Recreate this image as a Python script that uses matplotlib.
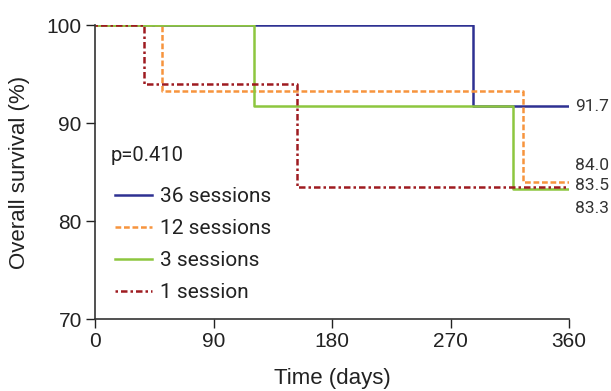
"""
Overall survival by number of sessions (Kaplan-Meier style step plot)
"""
import matplotlib
matplotlib.use("Agg")
import matplotlib.pyplot as plt

plt.rcParams['font.family'] = ['Liberation Sans', 'DejaVu Sans']

# step curves: time (days) and survival (%)
days_36 = [0, 287, 360]
surv_36 = [100, 91.7, 91.7]
days_12 = [0, 51, 325, 360]
surv_12 = [100, 93.3, 84.0, 84.0]
days_3 = [0, 121, 317, 360]
surv_3 = [100, 91.7, 83.3, 83.3]
days_1 = [0, 37, 153, 360]
surv_1 = [100, 94.0, 83.5, 83.5]

labels = ["36 sessions", "12 sessions", "3 sessions", "1 session"]
end_labels = ["91.7", "84.0", "83.5", "83.3"]
end_label_y = [91.7, 85.7, 83.6, 81.3]
x_ticks = [0, 90, 180, 270, 360]
y_ticks = [70, 80, 90, 100]

fig = plt.figure(figsize=(6.11, 3.91), dpi=100)
ax = fig.add_axes([0.1555, 0.184, 0.776, 0.752])

ax.step(days_36, surv_36, where='post', color='#2e3192', lw=1.8, label=labels[0])
ax.step(days_12, surv_12, where='post', color='#f7943d', lw=1.8,
        linestyle=(0, (2.3, 1.1)), label=labels[1])
ax.step(days_3, surv_3, where='post', color='#8dc63f', lw=1.8, label=labels[2])
ax.step(days_1, surv_1, where='post', color='#9e1b20', lw=1.8,
        linestyle=(0, (1, 1.2, 2.6, 1.2)), label=labels[3])

for txt, yv in zip(end_labels, end_label_y):
    ax.text(364.5, yv, txt, fontsize=12.5, color='#333333', va='center', ha='left',
            family=['Roboto', 'DejaVu Sans'], clip_on=False)

ax.text(11.5, 86.7, "p=0.410", fontsize=14.5, color='#222222', va='center',
        family=['Roboto', 'DejaVu Sans'])

leg = ax.legend(loc='upper left', bbox_to_anchor=(0.042, 0.448), frameon=False,
                prop={'family': ['Roboto', 'DejaVu Sans'], 'size': 15},
                handlelength=1.8, labelspacing=0.62, handletextpad=0.35,
                borderpad=0, borderaxespad=0)
for t in leg.get_texts():
    t.set_color('#222222')

ax.set_xlim(0, 360)
ax.set_ylim(70, 100)
ax.set_xticks(x_ticks)
ax.set_yticks(y_ticks)
ax.tick_params(labelsize=15, colors='#222222', length=6.5, width=1, pad=3,
               direction='out')
ax.spines['top'].set_visible(False)
ax.spines['right'].set_visible(False)
for s in ['left', 'bottom']:
    ax.spines[s].set_color('#333333')
    ax.spines[s].set_linewidth(1.2)
ax.set_xlabel("Time (days)", fontsize=16, color='#222222', labelpad=12)
ax.set_ylabel("Overall survival (%)", fontsize=16, color='#222222', labelpad=12)

fig.savefig("out.png", dpi=100)
